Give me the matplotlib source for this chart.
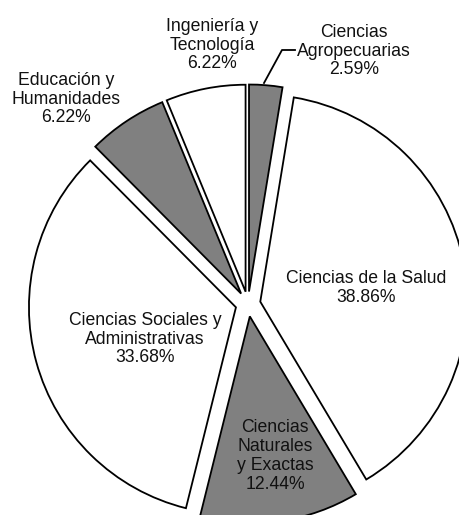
import matplotlib
matplotlib.use("Agg")
import matplotlib.pyplot as plt

plt.rcParams['font.family'] = ['Liberation Sans', 'DejaVu Sans']

# Data (clockwise from 12 o'clock)
categories = ["Ciencias\nAgropecuarias", "Ciencias de la Salud", "Ciencias\nNaturales\ny Exactas",
              "Ciencias Sociales y\nAdministrativas", "Educación y\nHumanidades", "Ingeniería y\nTecnología"]
values = [2.59, 38.86, 12.44, 33.68, 6.22, 6.22]
fills = ["#808080", "#ffffff", "#808080", "#ffffff", "#808080", "#ffffff"]

W, H = 460, 515
fig = plt.figure(figsize=(W / 100, H / 100), dpi=100)
ax = fig.add_axes([0, 0, 1, 1])

cx, cy_pix, R = 248, 304, 207
explode = [12.5] * len(values)  # absolute offset in data units (pixels)
ax.pie(values, colors=fills, startangle=90, counterclock=False, explode=explode,
       radius=R, center=(cx, H - cy_pix),
       wedgeprops=dict(edgecolor="black", linewidth=1.3))
ax.set_xlim(0, W)
ax.set_ylim(0, H)
ax.set_aspect("equal")
ax.axis("off")

# label centres in pixel coordinates (x, y from top)
label_pos = [(354, 51), (366, 288), (275, 456), (145, 339), (66, 99), (212, 45)]
for name, v, (lx, ly) in zip(categories, values, label_pos):
    ax.text(lx, H - ly, f"{name}\n{v:.2f}%", ha="center", va="center",
            fontsize=12.7, color="#111111", linespacing=1.15)

# leader line for the small slice
ax.plot([264, 282, 295], [H - 83, H - 50, H - 50], color="black", linewidth=1.3)

fig.savefig("out.png", dpi=100)
